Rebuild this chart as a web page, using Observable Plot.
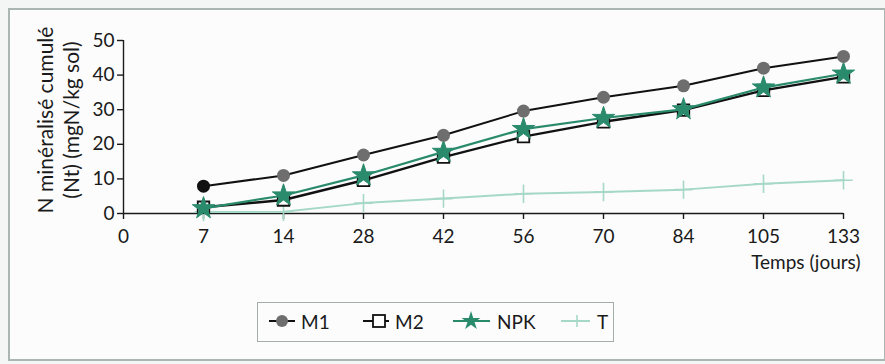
<!DOCTYPE html>
<html>
<head>
<meta charset="utf-8">
<script src="https://cdn.jsdelivr.net/npm/d3@7"></script>
<script src="https://cdn.jsdelivr.net/npm/@observablehq/plot@0.6"></script>
<style>
  html, body { margin: 0; padding: 0; background: #f4f6f5; }
  #wrap { position: relative; width: 885px; height: 364px; overflow: hidden; background: #f4f6f5; font-family: Lato, "DejaVu Sans", sans-serif; }
  #frame { position: absolute; left: 8px; top: 8px; width: 878px; height: 353px; border: 2px solid #aab6b1; background: #fcfcfc; box-sizing: border-box; }
  #chart { position: absolute; left: 0; top: 0; }
  #legend { position: absolute; left: 257px; top: 302px; width: 357px; height: 40px; border: 1.5px solid #a3aea9; box-sizing: border-box; font-size: 19px; color: #1a1a1a; }
  .item { display: flex; align-items: center; position: absolute; top: 6px; }
  .item svg { display: block; }
  .item span { margin-left: 5px; }
</style>
</head>
<body>
<div id="wrap">
  <div id="frame"></div>
  <div id="chart"></div>
  <div id="legend"></div>
</div>
<script>
// Categories (days) — equally spaced categorical axis
const days = ["0", "7", "14", "28", "42", "56", "70", "84", "105", "133"];
const dataDays = ["7", "14", "28", "42", "56", "70", "84", "105", "133"];

// Series values (N minéralisé cumulé, mgN/kg sol)
const M1  = [7.9, 11, 16.9, 22.6, 29.6, 33.6, 36.9, 42, 45.4];
const M2  = [1.8, 3.9, 9.6, 16.3, 22.2, 26.5, 29.9, 35.6, 39.5];
const NPK = [1.5, 5.2, 11, 17.8, 24.4, 27.6, 30.1, 36.4, 40.4];
const T   = [0.4, 0.5, 3, 4.3, 5.7, 6.2, 6.9, 8.6, 9.6];

const yTicks = [0, 10, 20, 30, 40, 50];
const seriesNames = ["M1", "M2", "NPK", "T"];
const yTitle = "N minéralisé cumulé\n(Nt) (mgN/kg sol)";
const xTitle = "Temps (jours)";

const mk = (name, vals) => vals.map((v, i) => ({series: name, day: dataDays[i], value: v}));
const dM1 = mk("M1", M1), dM2 = mk("M2", M2), dNPK = mk("NPK", NPK), dT = mk("T", T);

const font = "Lato, 'DejaVu Sans', sans-serif";
const green = "#2a8a6c";
const lightGreen = "#a6d8c8";

const chart = Plot.plot({
  width: 885,
  height: 282,
  marginLeft: 123,
  marginRight: 42,
  marginTop: 40,
  marginBottom: 69,
  style: {fontFamily: font, fontSize: "19px", background: "transparent", color: "#1a1a1a", overflow: "visible"},
  x: {type: "point", domain: days, padding: 0},
  y: {domain: [0, 50]},
  marks: [
    Plot.axisY({ticks: yTicks, tickSize: 6, tickPadding: 3, label: null, stroke: "#1a1a1a", strokeWidth: 1.4}),
    Plot.axisX({tickSize: 6, tickPadding: 10, label: null, stroke: "#1a1a1a", strokeWidth: 1.4}),
    Plot.ruleX([days[0]], {y1: yTicks[0], y2: yTicks[yTicks.length - 1], stroke: "#1a1a1a", strokeWidth: 1.4}),
    Plot.ruleY([0], {stroke: "#1a1a1a", strokeWidth: 1.4}),
    Plot.text([yTitle], {frameAnchor: "left", dx: -66, dy: -7, rotate: -90, fontSize: 21, lineHeight: 1.25, textAnchor: "middle", fill: "#1a1a1a"}),
    Plot.text([xTitle], {frameAnchor: "bottom-right", dy: 55, dx: 17, textAnchor: "end", fontSize: 19, fill: "#1a1a1a"}),
    // T
    Plot.line(dT, {x: "day", y: "value", stroke: lightGreen, strokeWidth: 2}),
    Plot.dot(dT, {x: "day", y: "value", symbol: "plus", r: 6, stroke: lightGreen, strokeWidth: 1.6}),
    // M2
    Plot.line(dM2, {x: "day", y: "value", stroke: "#111", strokeWidth: 2.4}),
    Plot.dot(dM2, {x: "day", y: "value", symbol: "square", r: 6.5, fill: "white", stroke: "#111", strokeWidth: 1.8}),
    // NPK
    Plot.line(dNPK, {x: "day", y: "value", stroke: green, strokeWidth: 2.2}),
    Plot.dot(dNPK, {x: "day", y: "value", symbol: "star", r: 7, fill: green, stroke: green, strokeWidth: 1}),
    // M1
    Plot.line(dM1, {x: "day", y: "value", stroke: "#111", strokeWidth: 2}),
    Plot.dot(dM1, {x: "day", y: "value", symbol: "circle", r: 6.5, fill: (d, i) => i === 0 ? "#111" : "#6e6e6e", stroke: "none"})
  ]
});
document.getElementById("chart").appendChild(chart);

// Legend
const legendSpec = {
  M1: {left: 10, svg: `<line x1="1" y1="12" x2="27" y2="12" stroke="#111" stroke-width="2"/><circle cx="14" cy="12" r="6" fill="#6e6e6e"/>`},
  M2: {left: 104, svg: `<line x1="1" y1="12" x2="27" y2="12" stroke="#111" stroke-width="2"/><rect x="11" y="6" width="12" height="12" fill="white" stroke="#111" stroke-width="1.8"/>`},
  NPK: {left: 194, svg: `<line x1="1" y1="12" x2="38" y2="12" stroke="${green}" stroke-width="2"/><path transform="translate(19,12)" d="${d3.symbol(d3.symbolStar, 110)()}" fill="${green}"/>`},
  T: {left: 302, svg: `<line x1="1" y1="12" x2="30" y2="12" stroke="${lightGreen}" stroke-width="2"/><path transform="translate(17,12)" d="M-6,0H6M0,-6V6" stroke="${lightGreen}" stroke-width="1.6"/>`}
};
const legend = document.getElementById("legend");
seriesNames.forEach(name => {
  const s = legendSpec[name];
  const w = name === "NPK" ? 40 : (name === "T" ? 32 : 28);
  const div = document.createElement("div");
  div.className = "item";
  div.style.left = s.left + "px";
  div.innerHTML = `<svg width="${w}" height="24">${s.svg}</svg><span>${name}</span>`;
  legend.appendChild(div);
});
</script>
</body>
</html>
